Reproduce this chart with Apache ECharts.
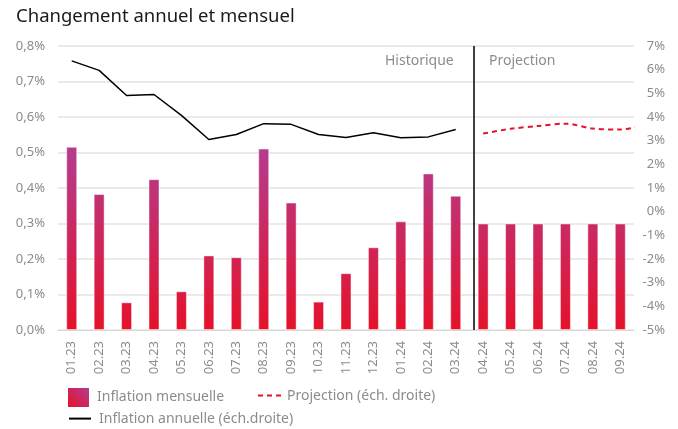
<!DOCTYPE html>
<html>
<head>
<meta charset="utf-8">
<script src="https://cdn.jsdelivr.net/npm/echarts@6/dist/echarts.min.js"></script>
<style>
  html, body { margin: 0; padding: 0; background: #fff; }
  #main { width: 678px; height: 429px; }
</style>
</head>
<body>
<div id="main"></div>
<script>
// categories
const months = ['01.23', '02.23', '03.23', '04.23', '05.23', '06.23', '07.23', '08.23', '09.23', '10.23',
  '11.23', '12.23', '01.24', '02.24', '03.24', '04.24', '05.24', '06.24', '07.24', '08.24', '09.24'];
// inflation mensuelle (%), échelle gauche
const monthly = [0.516, 0.383, 0.078, 0.425, 0.109, 0.210, 0.205, 0.511, 0.359, 0.080,
  0.160, 0.233, 0.306, 0.441, 0.378, 0.300, 0.300, 0.300, 0.300, 0.300, 0.300];
// inflation annuelle (%), échelle droite
const annual = [6.37, 5.97, 4.91, 4.95, 4.07, 3.05, 3.26, 3.72, 3.69, 3.26, 3.13, 3.33, 3.12, 3.16, 3.47];
// projection (%), échelle droite (10.24 tombe hors du graphique)
const projMonths = ['04.24', '05.24', '06.24', '07.24', '08.24', '09.24', '10.24'];
const projection = [3.30, 3.50, 3.62, 3.72, 3.51, 3.47, 3.69];

const leftMin = 0, leftMax = 0.8, leftStep = 0.1;
const rightMin = -5, rightMax = 7, rightStep = 1;

const grey = '#8c8c8c';
const font = 'Noto Sans';

const chart = echarts.init(document.getElementById('main'));

// position des points de projection sur l'axe x numérique caché
const firstProj = months.indexOf(projMonths[0]);
const projData = projection.map((v, i) => [firstProj + i + 0.5, v]);

// dégradé global des barres : rouge en bas, violet en haut
const barGradient = new echarts.graphic.LinearGradient(0, 146, 0, 330, [
  { offset: 0, color: '#b43c90' },
  { offset: 1, color: '#e5122a' }
], true);
const legendGradient = new echarts.graphic.LinearGradient(0, 1, 1, 0, [
  { offset: 0, color: '#e5122a' },
  { offset: 1, color: '#b43c90' }
]);

const option = {
  animation: false,
  textStyle: { fontFamily: font },
  title: {
    text: 'Changement annuel et mensuel',
    left: 11, top: 2,
    textStyle: { fontFamily: font, fontSize: 18.5, fontWeight: 'normal', color: '#1a1a1a' }
  },
  grid: { left: 58, right: 44, top: 46, bottom: 99 },
  legend: [
    {
      left: 63, top: 383, itemWidth: 21, itemHeight: 19,
      textStyle: { color: grey, fontSize: 14, fontFamily: font, padding: [0, 0, 0, 3] },
      data: [{ name: 'Inflation mensuelle', icon: 'rect', itemStyle: { color: legendGradient, borderWidth: 0 } }]
    },
    {
      left: 252, top: 383, itemWidth: 24, itemHeight: 19,
      itemStyle: { opacity: 0 },
      textStyle: { color: grey, fontSize: 14, fontFamily: font },
      data: ['Projection (éch. droite)']
    },
    {
      left: 63, top: 406, itemWidth: 22, itemHeight: 19,
      itemStyle: { opacity: 0 },
      textStyle: { color: grey, fontSize: 14, fontFamily: font, padding: [0, 0, 0, 3] },
      data: ['Inflation annuelle (éch.droite)']
    }
  ],
  xAxis: [
    {
      type: 'category',
      data: months,
      axisTick: { show: false },
      axisLine: { lineStyle: { color: '#d9d9d9', width: 1 } },
      axisLabel: { rotate: 90, color: grey, fontSize: 13, margin: 11, fontFamily: font }
    },
    {
      type: 'value', min: 0, max: months.length, show: false
    }
  ],
  yAxis: [
    {
      type: 'value', min: leftMin, max: leftMax, interval: leftStep,
      axisLine: { show: false }, axisTick: { show: false },
      splitLine: { lineStyle: { color: '#e3e3e3', width: 1.5 } },
      axisLabel: {
        color: grey, fontSize: 13, margin: 13, fontFamily: font,
        formatter: v => v.toFixed(1).replace('.', ',') + '%'
      }
    },
    {
      type: 'value', min: rightMin, max: rightMax, interval: rightStep,
      axisLine: { show: false }, axisTick: { show: false }, splitLine: { show: false },
      axisLabel: {
        color: grey, fontSize: 13, margin: 31, align: 'right', fontFamily: font,
        formatter: v => v + '%'
      }
    }
  ],
  graphic: [
    { type: 'text', left: 385, top: 54, style: { text: 'Historique', fill: grey, fontSize: 14, fontFamily: font } },
    { type: 'text', left: 489, top: 54, style: { text: 'Projection', fill: grey, fontSize: 14, fontFamily: font } }
  ],
  series: [
    {
      name: 'Inflation mensuelle',
      type: 'bar',
      data: monthly,
      barWidth: '40%',
      itemStyle: { color: barGradient, borderColor: 'rgba(255,255,255,0.45)', borderWidth: 1 }
    },
    {
      name: 'Inflation annuelle (éch.droite)',
      type: 'line',
      yAxisIndex: 1,
      data: annual,
      symbol: 'none',
      lineStyle: { color: '#000', width: 1.5 },
      itemStyle: { color: '#000' }
    },
    {
      name: 'Projection (éch. droite)',
      type: 'line',
      xAxisIndex: 1,
      yAxisIndex: 1,
      data: projData,
      symbol: 'none',
      smooth: 0.3,
      clip: true,
      lineStyle: { color: '#e5122a', width: 2, type: [5, 4] },
      itemStyle: { color: '#e5122a' },
      markLine: {
        silent: true,
        symbol: 'none',
        label: { show: false },
        lineStyle: { color: '#000', width: 1.5, type: 'solid' },
        data: [{ xAxis: 15.15 }]
      }
    }
  ]
};

chart.setOption(option);

window.addEventListener('resize', function () {
  chart.resize();
});
</script>
</body>
</html>
